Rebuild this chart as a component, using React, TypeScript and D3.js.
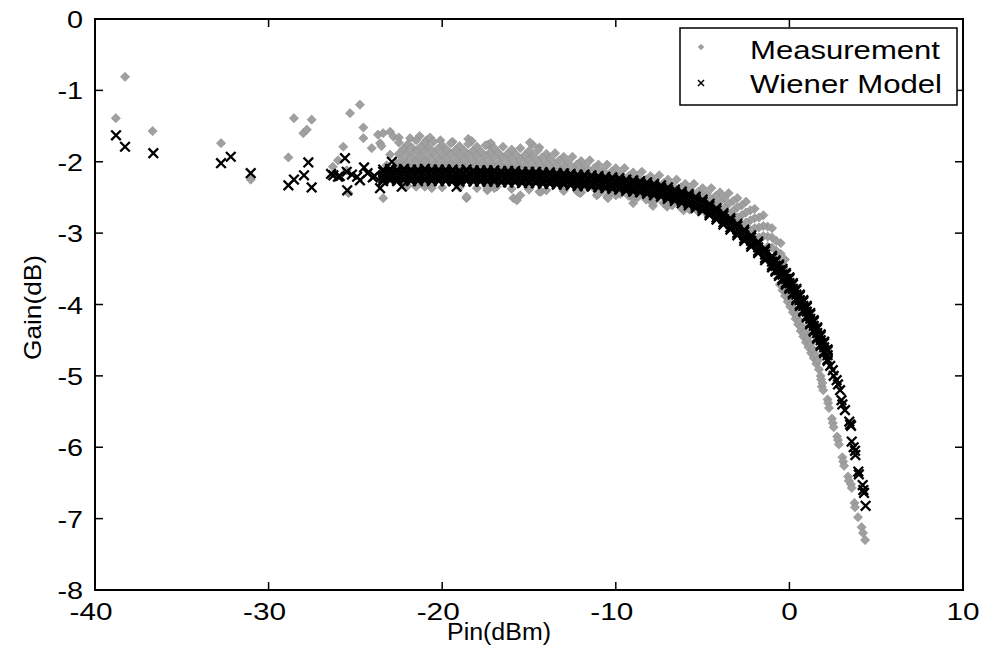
import React from 'react';
import * as d3 from 'd3';

// ---------- axis ticks & labels ----------
const xTicks = [-40, -30, -20, -10, 0, 10];
const yTicks = [0, -1, -2, -3, -4, -5, -6, -7, -8];
const seriesNames = ['Measurement', 'Wiener Model'];

// ---------- Measurement (grey diamonds) ----------
// dense band above the model curve: x positions and rows read from the picture
const measBandX = [-22.5, -22, -21.5, -21, -20.5, -20, -19.5, -19, -18.5, -18, -17.5, -17, -16.5, -16, -15.5, -15, -14.5, -14, -13.5, -13, -12.5, -12, -11.5, -11, -10.5, -10, -9.5, -9, -8.5, -8, -7.5, -7, -6.5, -6, -5.5, -5, -4.5, -4, -3.5, -3, -2.5, -2, -1.5, -1, -0.5];
const measBandXShift = [-22.25, -21.75, -21.25, -20.75, -20.25, -19.75, -19.25, -18.75, -18.25, -17.75, -17.25, -16.75, -16.25, -15.75, -15.25, -14.75, -14.25, -13.75, -13.25, -12.75, -12.25, -11.75, -11.25, -10.75, -10.25, -9.75, -9.25, -8.75, -8.25, -7.75, -7.25, -6.75, -6.25, -5.75, -5.25, -4.75, -4.25, -3.75, -3.25, -2.75, -2.25, -1.75, -1.25, -0.75, -0.25];
const measRow1 = [-1.73, -1.76, -1.70, -1.73, -1.72, -1.77, -1.74, -1.78, -1.75, -1.79, -1.77, -1.81, -1.79, -1.83, -1.81, -1.85, -1.84, -1.89, -1.88, -1.93, -1.93, -1.99, -1.98, -2.04, -2.04, -2.09, -2.09, -2.15, -2.14, -2.20, -2.19, -2.25, -2.25, -2.31, -2.31, -2.37, -2.37, -2.43, -2.44, -2.51, -2.56, -2.66, -2.75, -2.93, -3.14];
const measRow2 = [-1.82, -1.80, -1.79, -1.80, -1.82, -1.83, -1.84, -1.84, -1.85, -1.86, -1.87, -1.88, -1.89, -1.90, -1.91, -1.92, -1.94, -1.96, -1.98, -2.01, -2.04, -2.06, -2.09, -2.12, -2.14, -2.17, -2.20, -2.22, -2.25, -2.27, -2.30, -2.33, -2.36, -2.39, -2.42, -2.45, -2.48, -2.51, -2.55, -2.61, -2.68, -2.78, -2.91, -3.11, -3.37];
const measRow3 = [-1.89, -1.88, -1.86, -1.86, -1.88, -1.90, -1.90, -1.91, -1.91, -1.92, -1.93, -1.94, -1.95, -1.96, -1.97, -1.98, -2.00, -2.02, -2.04, -2.06, -2.09, -2.12, -2.14, -2.17, -2.20, -2.22, -2.25, -2.28, -2.30, -2.33, -2.35, -2.38, -2.41, -2.44, -2.47, -2.50, -2.53, -2.56, -2.59, -2.64, -2.71, -2.79, -2.90, -3.06, -3.29];
const measRow4 = [-1.96, -1.94, -1.93, -1.94, -1.96, -1.97, -1.98, -1.98, -1.99, -2.00, -2.01, -2.02, -2.03, -2.04, -2.05, -2.06, -2.08, -2.10, -2.12, -2.15, -2.18, -2.20, -2.23, -2.26, -2.28, -2.31, -2.34, -2.36, -2.39, -2.41, -2.44, -2.47, -2.50, -2.53, -2.56, -2.59, -2.62, -2.65, -2.69, -2.75, -2.82, -2.92, -3.05, -3.25, -3.51];
const measRow5 = [-2.03, -2.02, -2.00, -2.00, -2.02, -2.04, -2.04, -2.05, -2.05, -2.06, -2.07, -2.08, -2.09, -2.10, -2.11, -2.12, -2.14, -2.16, -2.18, -2.20, -2.23, -2.26, -2.28, -2.31, -2.34, -2.36, -2.39, -2.42, -2.44, -2.47, -2.49, -2.52, -2.55, -2.58, -2.61, -2.64, -2.67, -2.70, -2.73, -2.78, -2.85, -2.93, -3.04, -3.20, -3.43];
const measRow6 = [-2.10, -2.08, -2.07, -2.08, -2.10, -2.11, -2.12, -2.12, -2.13, -2.14, -2.15, -2.16, -2.17, -2.18, -2.19, -2.20, -2.22, -2.24, -2.26, -2.29, -2.32, -2.34, -2.37, -2.40, -2.42, -2.45, -2.48, -2.50, -2.53, -2.55, -2.58, -2.61, -2.64, -2.67, -2.70, -2.73, -2.76, -2.79, -2.83, -2.89, -2.96, -3.06, -3.19, -3.39, -3.65];

// scattered measurement points at low input power
const measScatter: [number, number][] = [
  [-38.27, -0.81], [-38.8, -1.39], [-36.68, -1.57], [-32.74, -1.74], [-31.03, -2.25],
  [-28.54, -1.39], [-28.0, -1.60], [-27.8, -1.55], [-27.52, -1.41], [-28.86, -1.94],
  [-26.3, -2.07], [-26.0, -1.98], [-25.7, -1.79], [-25.5, -2.12], [-25.4, -2.44],
  [-25.31, -1.32], [-24.74, -1.20], [-24.54, -1.52], [-24.54, -1.67], [-24.06, -1.81],
  [-23.7, -1.62], [-23.58, -1.74], [-23.4, -1.60], [-23.0, -1.58], [-23.5, -1.78],
  [-22.8, -1.65], [-23.0, -1.90], [-22.5, -1.66], [-21.85, -1.67], [-21.3, -1.64],
  [-20.9, -1.70], [-20.7, -1.66], [-20.1, -1.70], [-19.4, -1.72], [-18.5, -1.68],
  [-18.3, -1.71], [-17.35, -1.76], [-17.2, -1.74], [-14.8, -1.76], [-14.95, -1.73],
  [-14.4, -1.80], [-23.4, -2.51], [-23.2, -2.05], [-22.7, -2.0],
];
// measurement points just below the model band
const measBelow: [number, number][] = [
  [-21.5, -2.35], [-20.6, -2.37], [-18.6, -2.51], [-18.6, -2.49], [-17.4, -2.40],
  [-17.4, -2.37], [-16.86, -2.35], [-15.9, -2.51], [-15.7, -2.54], [-15.5, -2.47],
  [-14.4, -2.42], [-14.3, -2.42], [-12.2, -2.42], [-12.06, -2.44], [-11.1, -2.47],
  [-10.5, -2.49], [-10.45, -2.51], [-9.0, -2.58], [-7.86, -2.62], [-7.05, -2.63],
  [-6.1, -2.68], [-22, -2.34], [-21, -2.35], [-20, -2.36], [-19, -2.36], [-18, -2.37],
  [-17, -2.37], [-16, -2.38], [-15, -2.39], [-14, -2.40], [-13, -2.41], [-12, -2.43],
  [-11, -2.45], [-10, -2.47], [-9, -2.51], [-8, -2.55], [-7, -2.61],
];
// measurement branch in the compression region (left of the model curve)
const measCompress: [number, number][] = [
  [-0.55, -3.72], [-0.4, -3.80], [-0.25, -3.88], [-0.1, -3.96], [0.05, -4.03], [0.2, -4.11],
  [0.35, -4.20], [0.5, -4.28], [0.65, -4.37], [0.8, -4.45], [0.95, -4.53], [1.1, -4.60],
  [1.25, -4.68], [1.4, -4.75], [1.55, -4.83], [1.7, -4.91],
  [-0.3, -3.76], [-0.15, -3.83], [0.0, -3.91], [0.15, -3.99], [0.3, -4.07], [0.45, -4.15],
  [0.6, -4.23], [0.75, -4.31], [0.9, -4.39], [1.05, -4.47], [1.2, -4.55], [1.35, -4.62],
  [1.5, -4.70], [1.65, -4.78],
  [1.8, -5.0], [1.83, -5.05], [1.86, -5.15], [1.9, -5.1], [1.95, -5.2], [2.2, -5.33],
  [2.23, -5.38], [2.28, -5.45], [2.45, -5.6], [2.5, -5.66], [2.55, -5.72], [2.75, -5.85],
  [2.8, -5.9], [2.85, -5.96], [3.05, -6.14], [3.1, -6.2], [3.15, -6.26], [3.38, -6.41],
  [3.42, -6.47], [3.55, -6.52], [3.59, -6.57], [3.75, -6.78], [3.78, -6.84], [3.95, -6.98],
  [4.16, -7.12], [4.24, -7.2], [4.36, -7.3],
];

// ---------- Wiener model (black crosses) ----------
const wienerBandX = [-23.4, -23.0, -22.6, -22.2, -21.8, -21.4, -21.0, -20.6, -20.2, -19.8, -19.4, -19.0, -18.6, -18.2, -17.8, -17.4, -17.0, -16.6, -16.2, -15.8, -15.4, -15.0, -14.6, -14.2, -13.8, -13.4, -13.0, -12.6, -12.2, -11.8, -11.4, -11.0, -10.6, -10.2, -9.8, -9.4, -9.0, -8.6, -8.2, -7.8, -7.4, -7.0, -6.6, -6.2, -5.8, -5.4, -5.0, -4.6, -4.2, -3.8, -3.4, -3.0, -2.6, -2.2, -1.8, -1.4, -1.0, -0.8, -0.6, -0.4, -0.2, 0.0, 0.2, 0.4, 0.6, 0.8, 1.0, 1.2, 1.4, 1.6, 1.8, 2.0, 2.2];
const wienerMid = [-2.19, -2.18, -2.19, -2.18, -2.19, -2.19, -2.18, -2.19, -2.19, -2.19, -2.19, -2.20, -2.19, -2.20, -2.20, -2.20, -2.20, -2.21, -2.21, -2.21, -2.22, -2.22, -2.22, -2.23, -2.23, -2.24, -2.24, -2.25, -2.26, -2.26, -2.27, -2.28, -2.29, -2.30, -2.31, -2.33, -2.34, -2.35, -2.37, -2.39, -2.41, -2.44, -2.47, -2.50, -2.53, -2.57, -2.61, -2.67, -2.73, -2.80, -2.87, -2.95, -3.03, -3.11, -3.20, -3.30, -3.40, -3.46, -3.52, -3.58, -3.64, -3.70, -3.78, -3.86, -3.94, -4.02, -4.10, -4.20, -4.30, -4.40, -4.50, -4.60, -4.71];
const wienerUpper = [-2.14, -2.13, -2.14, -2.13, -2.14, -2.14, -2.13, -2.14, -2.14, -2.14, -2.14, -2.15, -2.14, -2.15, -2.15, -2.15, -2.15, -2.16, -2.16, -2.16, -2.17, -2.17, -2.17, -2.18, -2.18, -2.19, -2.19, -2.20, -2.21, -2.21, -2.22, -2.23, -2.24, -2.25, -2.26, -2.28, -2.29, -2.30, -2.32, -2.34, -2.36, -2.39, -2.42, -2.45, -2.48, -2.52, -2.56, -2.62, -2.68, -2.75, -2.82, -2.90, -2.98, -3.06, -3.15, -3.25, -3.35, -3.40, -3.46, -3.52, -3.58, -3.64, -3.72, -3.80, -3.88, -3.96, -4.04, -4.14, -4.24, -4.34, -4.44, -4.54, -4.65];
const wienerLower = [-2.24, -2.23, -2.24, -2.23, -2.24, -2.24, -2.23, -2.24, -2.24, -2.24, -2.24, -2.25, -2.24, -2.25, -2.25, -2.25, -2.25, -2.26, -2.26, -2.26, -2.27, -2.27, -2.27, -2.28, -2.28, -2.29, -2.29, -2.30, -2.31, -2.31, -2.32, -2.33, -2.34, -2.35, -2.36, -2.38, -2.39, -2.40, -2.42, -2.44, -2.46, -2.49, -2.52, -2.55, -2.58, -2.62, -2.66, -2.72, -2.78, -2.85, -2.92, -3.00, -3.08, -3.16, -3.25, -3.35, -3.45, -3.52, -3.58, -3.64, -3.70, -3.76, -3.84, -3.92, -4.00, -4.08, -4.16, -4.26, -4.36, -4.46, -4.56, -4.66, -4.77];
const wienerTop = [-2.11, -2.10, -2.11, -2.10, -2.11, -2.11, -2.10, -2.11, -2.11, -2.11, -2.11, -2.12, -2.11, -2.12, -2.12, -2.12, -2.12, -2.13, -2.13, -2.13, -2.14, -2.14, -2.14, -2.15, -2.15, -2.16, -2.16, -2.17, -2.18, -2.18, -2.19, -2.20, -2.21, -2.22, -2.23, -2.25, -2.26, -2.27, -2.29, -2.31, -2.33, -2.36, -2.39, -2.42, -2.45, -2.49, -2.53, -2.59, -2.65, -2.72, -2.79, -2.87, -2.95, -3.03, -3.12, -3.22, -3.32, -3.38, -3.44, -3.50, -3.56, -3.62, -3.70, -3.78, -3.86, -3.94, -4.02, -4.12, -4.22, -4.32, -4.42, -4.52, -4.63];
const wienerBottom = [-2.27, -2.26, -2.27, -2.26, -2.27, -2.27, -2.26, -2.27, -2.27, -2.27, -2.27, -2.28, -2.27, -2.28, -2.28, -2.28, -2.28, -2.29, -2.29, -2.29, -2.30, -2.30, -2.30, -2.31, -2.31, -2.32, -2.32, -2.33, -2.34, -2.34, -2.35, -2.36, -2.37, -2.38, -2.39, -2.41, -2.42, -2.43, -2.45, -2.47, -2.49, -2.52, -2.55, -2.58, -2.61, -2.65, -2.69, -2.75, -2.81, -2.88, -2.95, -3.03, -3.11, -3.19, -3.28, -3.38, -3.48, -3.54, -3.60, -3.66, -3.72, -3.78, -3.86, -3.94, -4.02, -4.10, -4.18, -4.28, -4.38, -4.48, -4.58, -4.68, -4.79];
const wienerScatter: [number, number][] = [
  [-38.79, -1.63], [-38.27, -1.79], [-36.64, -1.88], [-32.74, -2.02], [-32.18, -1.93],
  [-31.03, -2.16], [-28.86, -2.33], [-28.54, -2.25], [-27.96, -2.19], [-27.71, -2.01],
  [-27.52, -2.36], [-26.27, -2.19], [-25.9, -2.2], [-25.6, -1.95], [-25.5, -2.14],
  [-25.47, -2.40], [-24.74, -2.26], [-24.5, -2.08], [-24.0, -2.22], [-23.58, -2.37],
  [-22.9, -2.0], [-22.33, -2.35], [-19.17, -2.35], [-26.4, -2.17], [-26.0, -2.21],
  [-25.2, -2.18], [-24.9, -2.21], [-24.3, -2.16], [-23.9, -2.2],
];
const wienerTail: [number, number][] = [
  [2.35, -4.86], [2.5, -4.92], [2.55, -5.0], [2.72, -5.06], [2.8, -5.12], [2.92, -5.2],
  [3.0, -5.34], [3.05, -5.4], [3.2, -5.48], [3.45, -5.64], [3.5, -5.68], [3.55, -5.7],
  [3.59, -5.92], [3.7, -6.0], [3.78, -6.05], [3.8, -6.11], [3.97, -6.34], [4.0, -6.38],
  [4.22, -6.53], [4.26, -6.6], [4.3, -6.64], [4.39, -6.82],
];

const zip = (xs: number[], ys: number[]): [number, number][] => xs.map((v, i) => [v, ys[i]]);

const measurementPoints: [number, number][] = [
  ...measScatter,
  ...measBelow,
  ...zip(measBandX, measRow1),
  ...zip(measBandXShift, measRow2),
  ...zip(measBandX, measRow3),
  ...zip(measBandXShift, measRow4),
  ...zip(measBandX, measRow5),
  ...zip(measBandXShift, measRow6),
  ...measCompress,
];
const wienerPoints: [number, number][] = [
  ...wienerScatter,
  ...zip(wienerBandX, wienerTop),
  ...zip(wienerBandX, wienerBottom),
  ...zip(wienerBandX, wienerUpper),
  ...zip(wienerBandX, wienerLower),
  ...zip(wienerBandX, wienerMid),
  ...wienerTail,
];

const FONT = "'Liberation Sans', Arial, Helvetica, sans-serif";

function diamondPath(r: number) {
  return `M0,${-r}L${r},0L0,${r}L${-r},0Z`;
}
function crossPath(r: number) {
  return `M${-r},${-r}L${r},${r}M${-r},${r}L${r},${-r}`;
}

export default function App() {
  const W = 985, H = 662;
  const left = 95, right = 963, top = 19, bottom = 590;
  const x = d3.scaleLinear().domain([-40, 10]).range([left, right]);
  const y = d3.scaleLinear().domain([-8, 0]).range([bottom, top]);
  const tickLen = 8;
  const dPath = diamondPath(4.6);
  const xPath = crossPath(4.8);

  return (
    <svg width={W} height={H} viewBox={`0 0 ${W} ${H}`}
      style={{ position: 'absolute', left: 0, top: 0, background: '#fff' }}
      fontFamily={FONT}>
      <rect x={0} y={0} width={W} height={H} fill="#fff" />
      {/* measurement */}
      <g fill="#a0a0a0" stroke="#8a8a8a" strokeWidth={0.6}>
        {measurementPoints.map((p, i) => (
          <path key={i} d={dPath} transform={`translate(${x(p[0])},${y(p[1])})`} />
        ))}
      </g>
      {/* wiener model */}
      <g fill="none" stroke="#000" strokeWidth={2.3}>
        {wienerPoints.map((p, i) => (
          <path key={i} d={xPath} transform={`translate(${x(p[0])},${y(p[1])})`} />
        ))}
      </g>
      {/* axes frame */}
      <rect x={left} y={top} width={right - left} height={bottom - top} fill="none" stroke="#000" strokeWidth={2} />
      <g stroke="#000" strokeWidth={1.5}>
        {xTicks.map((t) => (
          <g key={'xt' + t}>
            <line x1={x(t)} x2={x(t)} y1={bottom} y2={bottom - tickLen} />
            <line x1={x(t)} x2={x(t)} y1={top} y2={top + tickLen} />
          </g>
        ))}
        {yTicks.map((t) => (
          <g key={'yt' + t}>
            <line x1={left} x2={left + tickLen} y1={y(t)} y2={y(t)} />
            <line x1={right} x2={right - tickLen} y1={y(t)} y2={y(t)} />
          </g>
        ))}
      </g>
      {/* tick labels */}
      <g fontSize={24} fill="#000">
        {xTicks.map((t) => (
          <text key={'xl' + t} textAnchor="middle"
            transform={`translate(${x(t) - (t < 0 ? 4 : 0)},620) scale(1.24,1)`}>{t}</text>
        ))}
        {yTicks.map((t) => (
          <text key={'yl' + t} textAnchor="end"
            transform={`translate(83,${y(t) + 9}) scale(1.2,1)`}>{t}</text>
        ))}
      </g>
      {/* axis labels */}
      <text x={499} y={640} fontSize={23} textAnchor="middle" textLength={104} lengthAdjust="spacingAndGlyphs">Pin(dBm)</text>
      <text transform={`translate(41,${(top + bottom) / 2 + 3}) rotate(-90)`} fontSize={24} textAnchor="middle"
        textLength={105} lengthAdjust="spacingAndGlyphs">Gain(dB)</text>
      {/* legend */}
      <rect x={680} y={28} width={277} height={77} fill="#fff" stroke="#000" strokeWidth={1.5} />
      <path d={diamondPath(2.8)} transform="translate(701,47)" fill="#a0a0a0" stroke="#8a8a8a" strokeWidth={0.6} />
      <path d={crossPath(3)} transform="translate(701,83)" fill="none" stroke="#000" strokeWidth={1.5} />
      <text x={750} y={59} fontSize={26} textLength={190} lengthAdjust="spacingAndGlyphs">{seriesNames[0]}</text>
      <text x={750} y={93} fontSize={26} textLength={192} lengthAdjust="spacingAndGlyphs">{seriesNames[1]}</text>
    </svg>
  );
}
